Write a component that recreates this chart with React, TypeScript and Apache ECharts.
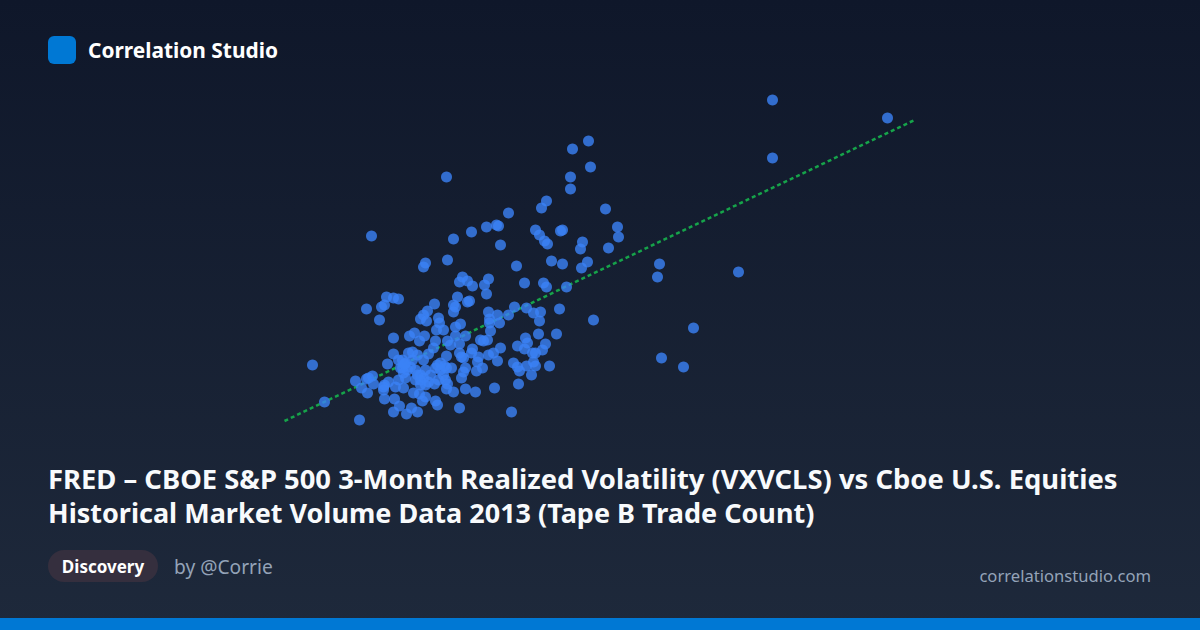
import React, { useEffect, useRef } from "react";
import * as echarts from "echarts";

const title1 = "FRED – CBOE S&P 500 3-Month Realized Volatility (VXVCLS) vs Cboe U.S. Equities";
const title2 = "Historical Market Volume Data 2013 (Tape B Trade Count)";
const brand = "Correlation Studio";
const chip = "Discovery";
const author = "by @Corrie";
const site = "correlationstudio.com";

const outerX = [312,324,772,887,772,659,657,738,693,661,683,593,371,446,588,572,590,570,570,546,541,605,508,496,498,486,471,453,535,539,544,547,560,562,617,618,582,580,608,500,447,425,423,516,551,562,587,581,462,459,467,472,488,484,524,543,546,566];
const outerY = [365,402,100,118,158,264,277,272,328,358,367,320,236,177,141,149,167,177,189,201,208,209,213,225,226,227,232,239,230,235,241,244,231,230,227,237,242,249,248,245,260,263,267,266,261,264,262,268,277,282,281,286,279,285,283,283,287,287];
const midX = [486,386,393,398,384,381,366,379,434,457,453,455,453,467,469,427,423,420,426,438,439,460,455,436,443,488,497,489,489,499,508,514,526,533,540,539,559,490,465,455,393,414,409,424,419,435,447,450,459,480,483,487,538,556,525,527,517,524,545,542,535,532,500,493,488,497,472,471,478,477,459,463,461,446,412,408,393,433,428,423,417,387,402,405,513,517,519,526,533,535,549,531,518,482,476,465,463,461,451,446,437];
const midY = [294,297,298,299,305,307,309,320,304,297,305,307,312,302,301,311,315,319,321,318,323,324,327,330,330,312,315,319,323,323,315,307,308,313,312,321,309,331,336,336,338,333,336,336,341,341,341,345,344,340,341,340,334,334,338,343,346,349,344,350,353,353,348,353,355,361,349,353,357,362,353,358,357,356,352,353,354,348,354,360,355,364,360,363,363,367,371,366,362,366,366,375,384,368,371,368,372,378,368,368,365];
const coreX = [400,403,410,415,420,425,430,440,443,438,420,415,425,420,405,398,403,395,388,383,384,383,435,407,417,423,445,447,412,398,440,402,434,444,404,428];
const coreY = [368,373,367,370,375,370,375,370,375,380,380,380,385,385,378,380,388,387,382,387,385,390,368,370,375,378,380,384,360,360,363,368,384,366,364,382];
const lowX = [372,368,366,355,361,367,373,384,394,399,393,406,411,417,359,422,425,419,413,435,437,459,453,446,465,475,494,511];
const lowY = [376,378,379,381,388,393,384,399,399,406,412,414,408,412,420,401,397,394,393,401,405,408,392,389,389,392,388,412];
const trendX = [284, 914];
const trendY = [421, 120];

const pairs = (xs: number[], ys: number[]) => xs.map((x, i) => [x, ys[i]]);
const scatterData = [
  ...pairs(outerX, outerY),
  ...pairs(midX, midY),
  ...pairs(coreX, coreY),
  ...pairs(lowX, lowY),
];

const FONT = '"Noto Sans", sans-serif';

export default function App() {
  const ref = useRef<HTMLDivElement>(null);
  useEffect(() => {
    const chart = echarts.init(ref.current!, undefined, { renderer: "svg" });
    chart.setOption({
      animation: false,
      backgroundColor: new echarts.graphic.LinearGradient(0, 0, 0, 1, [
        { offset: 0, color: "#0f172a" },
        { offset: 1, color: "#1e293b" },
      ]),
      grid: { left: 280, top: 90, width: 640, height: 340 },
      xAxis: { type: "value", min: 279.5, max: 919.5, show: false },
      yAxis: { type: "value", min: 90, max: 430, inverse: true, show: false },
      series: [
        {
          type: "line",
          data: pairs(trendX, trendY),
          symbol: "none",
          silent: true,
          lineStyle: { color: "#16a34a", width: 2.5, type: [4, 3] },
          z: 1,
        },
        {
          type: "scatter",
          data: scatterData,
          symbol: "circle",
          symbolSize: 11,
          silent: true,
          itemStyle: { color: "#3b82f6", opacity: 0.8 },
          z: 2,
        },
      ],
      graphic: [
        { type: "rect", shape: { x: 0, y: 618, width: 1200, height: 12 }, style: { fill: "#0078d4" } },
        { type: "rect", shape: { x: 48, y: 36, width: 28, height: 28, r: 6 }, style: { fill: "#0078d4" } },
        { type: "text", x: 88, y: 50, style: { text: brand, font: `700 20.9px ${FONT}`, fill: "#ffffff", textVerticalAlign: "middle" } },
        { type: "text", x: 48, y: 478, style: { text: title1, font: `700 27.4px ${FONT}`, fill: "#f8fafc", textVerticalAlign: "middle" } },
        { type: "text", x: 48, y: 512, style: { text: title2, font: `700 27px ${FONT}`, fill: "#f8fafc", textVerticalAlign: "middle" } },
        { type: "rect", shape: { x: 48, y: 550, width: 110, height: 32, r: 16 }, style: { fill: "#352f3e" } },
        { type: "text", x: 103, y: 566, style: { text: chip, font: `700 17px ${FONT}`, fill: "#ffffff", textAlign: "center", textVerticalAlign: "middle" } },
        { type: "text", x: 174, y: 566, style: { text: author, font: `400 19.2px ${FONT}`, fill: "#94a3b8", textVerticalAlign: "middle" } },
        { type: "text", x: 1151, y: 575, style: { text: site, font: `400 16.6px ${FONT}`, fill: "#94a3b8", textAlign: "right", textVerticalAlign: "middle" } },
      ],
    });
    return () => chart.dispose();
  }, []);
  return <div ref={ref} style={{ position: "fixed", left: 0, top: 0, width: 1200, height: 630 }} />;
}
